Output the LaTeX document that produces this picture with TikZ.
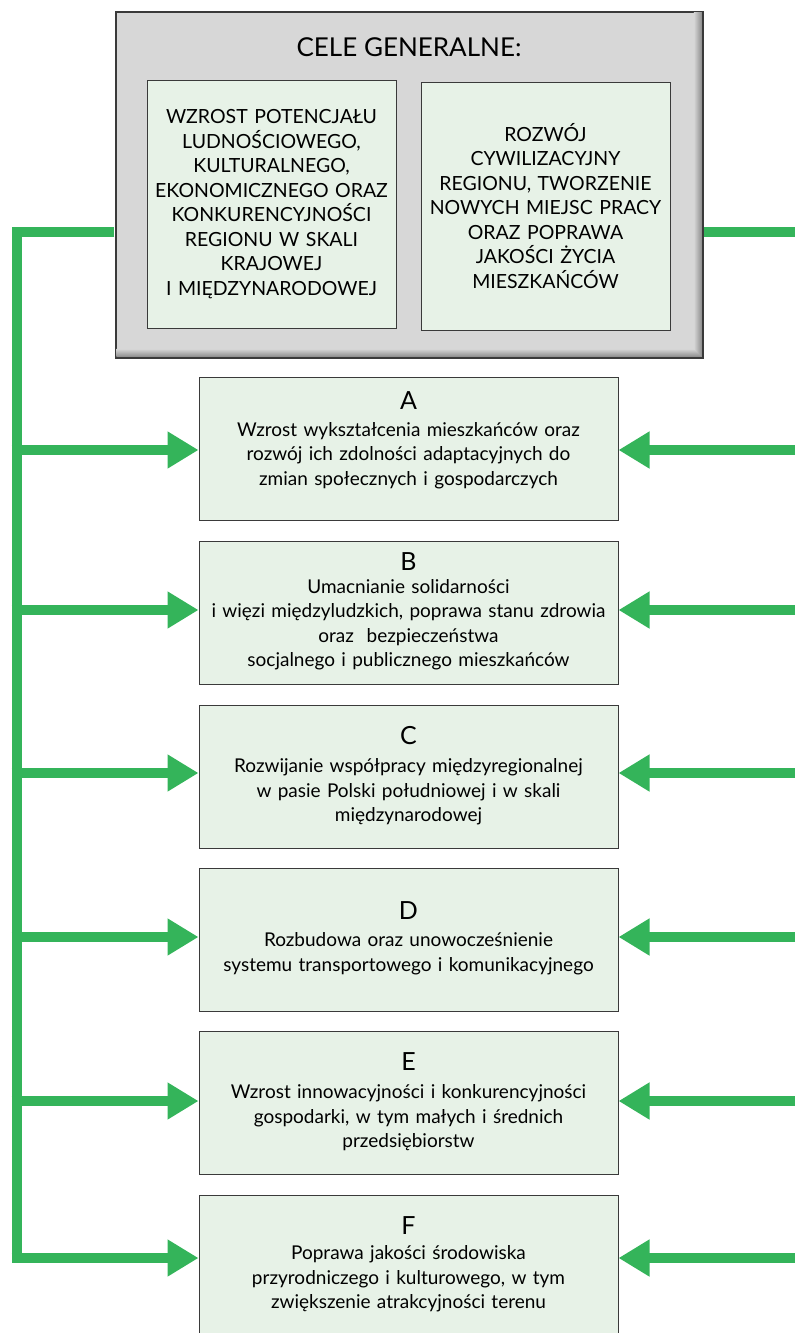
\documentclass[tikz,border=0pt]{standalone}
\usepackage{fontspec}
\setmainfont{Lato}
\usetikzlibrary{arrows.meta,shadows}
\definecolor{grn}{HTML}{34B45A}
\definecolor{boxfill}{HTML}{E7F2E7}
\definecolor{boxline}{HTML}{3A3A3A}
\definecolor{grayfill}{HTML}{D7D7D7}
\newcommand\Ltr{\fontsize{25}{26}\selectfont}
\tikzset{
  goalbox/.style={draw=boxline, line width=1pt, fill=boxfill, minimum width=419pt, minimum height=143pt, inner sep=0pt},
  innerbox/.style={draw=boxline, line width=1pt, fill=boxfill, minimum width=249pt, minimum height=248pt, text width=245pt, align=center, inner sep=0pt, font=\fontsize{19.5}{24.5}\selectfont},
  bigbox/.style={draw=boxline, line width=1.5pt, fill=grayfill, minimum width=586pt, minimum height=345pt, inner sep=0pt, drop shadow={shadow xshift=1.5pt, shadow yshift=-1.5pt, fill=black!50}},
  gline/.style={draw=grn, line width=10pt, line join=miter},
  garrow/.style={draw=grn, line width=10pt, -{Triangle[length=31pt,width=35pt]}},
  gtext/.style={text width=415pt, align=center, inner sep=0pt, font=\fontsize{19}{24.5}\selectfont}
}
\begin{document}
\begin{tikzpicture}[x=1pt,y=-1pt]
\useasboundingbox (0,0) rectangle (795,1333);
% top gray box
\node[bigbox] (cele) at (409,184.5) {};
\shade[left color=grayfill, right color=black!45] ([shift={(-9,1)}]cele.north east) rectangle ([shift={(-1,-1)}]cele.south east);
\shade[top color=grayfill, bottom color=black!45] ([shift={(1,-9)}]cele.south west) -- ([shift={(-9,-9)}]cele.south east) -- ([shift={(-1,-1)}]cele.south east) -- ([shift={(1,-1)}]cele.south west) -- cycle;
\draw[boxline, line width=1.5pt] (cele.north west) rectangle (cele.south east);
\node[font=\fontsize{26}{28}\selectfont] (title) at (409,47) {CELE GENERALNE:};
\node[innerbox] (g1) at (271.5,204) {WZROST POTENCJAŁU\\LUDNOŚCIOWEGO,\\KULTURALNEGO,\\EKONOMICZNEGO ORAZ\\KONKURENCYJNOŚCI\\REGIONU W SKALI\\KRAJOWEJ\\I MIĘDZYNARODOWEJ};
\node[innerbox] (g2) at (545.5,206) {ROZWÓJ\\CYWILIZACYJNY\\REGIONU, TWORZENIE\\NOWYCH MIEJSC PRACY\\ORAZ POPRAWA\\JAKOŚCI ŻYCIA\\MIESZKAŃCÓW};
% goal boxes
\foreach \n/\y in {A/448.5,B/612.5,C/776.5,D/939.5,E/1102.5,F/1266.5}{
  \node[goalbox] (\n) at (408.5,\y) {};
}
\node[gtext] (tA) at ([yshift=8pt]A.center) {{\Ltr A}\\[2pt]Wzrost wykształcenia mieszkańców oraz\\rozwój ich zdolności adaptacyjnych do\\zmian społecznych i gospodarczych};
\node[gtext] (tB) at ([yshift=1pt]B.center) {{\Ltr B}\\[-2pt]Umacnianie solidarności\\i więzi międzyludzkich, poprawa stanu zdrowia\\oraz\ \ bezpieczeństwa\\socjalnego i publicznego mieszkańców};
\node[gtext] (tC) at ([yshift=1pt]C.center) {{\Ltr C}\\[4pt]Rozwijanie współpracy międzyregionalnej\\w pasie Polski południowej i w skali\\międzynarodowej};
\node[gtext] (tD) at ([yshift=1.5pt]D.center) {{\Ltr D}\\[3pt]Rozbudowa oraz unowocześnienie\\systemu transportowego i komunikacyjnego};
\node[gtext] (tE) at ([yshift=1pt]E.center) {{\Ltr E}\\[4pt]Wzrost innowacyjności i konkurencyjności\\gospodarki, w tym małych i średnich\\przedsiębiorstw};
\node[gtext] (tF) at ([yshift=2pt]F.center) {{\Ltr F}\\[1pt]Poprawa jakości środowiska\\przyrodniczego i kulturowego, w tym\\zwiększenie atrakcyjności terenu};
% left bus
\coordinate (tl) at (16.5,232);
\coordinate (bl) at (16.5,1258);
\coordinate (tr) at (795,232);
\draw[gline] ([xshift=-1pt]cele.west |- tl) -- (tl) -- ([yshift=-5pt]bl);
\draw[gline] ([xshift=1pt]cele.east |- tr) -- (tr);
\foreach \n/\y in {A/450,B/610,C/773,D/937,E/1101,F/1258}{
  \coordinate (L\n) at (11.5,\y);
  \coordinate (R\n) at (795,\y);
  \draw[garrow] (L\n) -- (\n.west |- L\n);
  \draw[garrow] (R\n) -- (\n.east |- R\n);
}
\end{tikzpicture}
\end{document}
